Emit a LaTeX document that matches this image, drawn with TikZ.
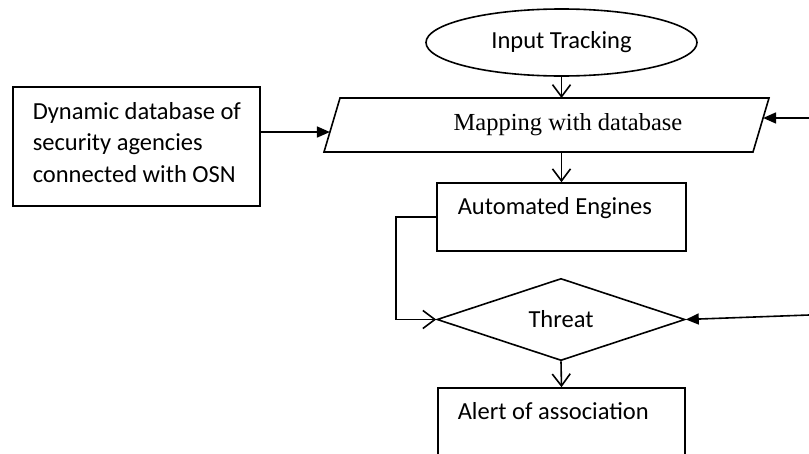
\documentclass[tikz,border=0pt]{standalone}
\usepackage{fontspec}
\setmainfont{Carlito}
\newfontfamily\mapfont{Liberation Serif}
\usetikzlibrary{shapes.geometric,arrows.meta,calc}
\begin{document}
\begin{tikzpicture}[x=1pt,y=-1pt,
  line width=1.6pt,
  every node/.style={inner sep=0pt, font=\fontsize{24.5}{31.3}\selectfont},
  outline/.style={draw, line width=1.6pt},
  openhead/.style={-{Straight Barb[length=12pt,width=18pt]}},
  solidhead/.style={-{Triangle[length=13pt,width=11pt]}},
]
\useasboundingbox (0,0) rectangle (809,453);
\clip (0,0) rectangle (809,453);

% start terminal
\node[ellipse, outline, minimum width=271pt, minimum height=67pt] (inp) at (561.5,42.5) {Input Tracking};

% input/output parallelogram
\coordinate (pTL) at (340,98);
\coordinate (pTR) at (769,98);
\coordinate (pBR) at (753,152);
\coordinate (pBL) at (324,152);
\draw (pTL) -- (pTR) -- (pBR) -- (pBL) -- cycle;
\node[font=\mapfont\fontsize{24.5}{30}\selectfont] (map) at (568,125) {Mapping with database};
\coordinate (mapL) at ($(pBL)!0.37!(pTL)$);
\coordinate (mapR) at ($(pBR)!0.63!(pTR)$);
\coordinate (mapT) at (inp.south |- pTL);
\coordinate (mapB) at (inp.south |- pBL);

% database box
\node[outline, minimum width=247pt, minimum height=119pt] (db) at (136.5,146.5) {};
\node[anchor=base west, align=left] (dbtext) at (32,182)
  {Dynamic database of\\security agencies\\connected with OSN};

% process box
\node[outline, minimum width=249pt, minimum height=68pt] (auto) at (561.5,217) {};
\node[anchor=base west] (autotext) at (457,214) {Automated Engines};

% decision
\node[diamond, outline, minimum width=248pt, minimum height=81pt] (thr) at (561,319.5) {Threat};

% output box
\node[outline, minimum width=247pt, minimum height=100pt] (alert) at (561.5,438) {};
\node[anchor=base west] (alerttext) at (457,419.3) {Alert of association};

% incoming feeds from the right
\coordinate (feedA) at (809,118);
\coordinate (feedB) at (809,315);

% connectors
\draw[openhead] (inp.south) -- (mapT);
\draw[openhead] (mapB) -- (auto.north);
\draw[solidhead] (db.east |- mapL) -- (mapL);
\draw[solidhead] (feedA) -- (mapR);
\draw[openhead] (auto.west) -- ++(-40,0) |- (thr.west);
\draw[solidhead] (feedB) -- (thr.east);
\draw[openhead] (thr.south) -- (alert.north);
\end{tikzpicture}
\end{document}
